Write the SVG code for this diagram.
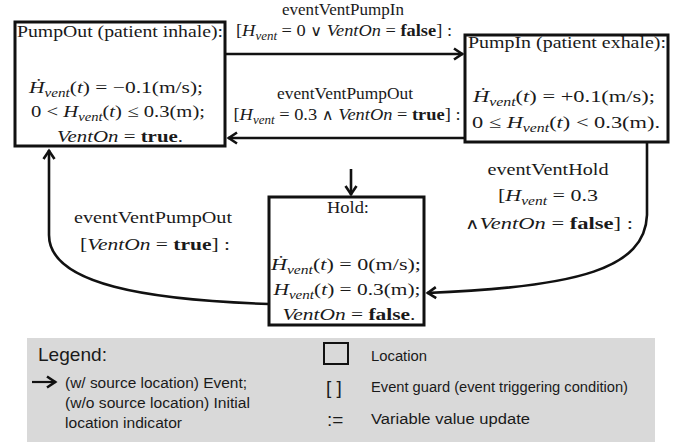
<svg xmlns="http://www.w3.org/2000/svg" width="678" height="442" viewBox="0 0 678 442">
<style>
.bg{fill:#ffffff}
.box{fill:none;stroke:#111;stroke-width:3}
.t{font-family:"Liberation Serif","DejaVu Serif",serif;font-size:17px;fill:#1a1a1a;text-anchor:middle}
.i{font-style:italic}
.b{font-weight:bold}
.s{font-size:12px}
.op{font-family:"DejaVu Serif","DejaVu Sans",serif;font-weight:normal;font-style:normal;font-size:15px}
.edge{fill:none;stroke:#111;stroke-width:2.6}
.leg{fill:#d9d9d9}
.lt{font-family:"Liberation Sans","Noto Sans",sans-serif;font-size:14px;fill:#1a1a1a}
.lh{font-family:"Liberation Sans","Noto Sans",sans-serif;font-size:19px;fill:#1a1a1a}
.sym{font-family:"Liberation Sans","Noto Sans",sans-serif;font-size:19px;fill:#1a1a1a}
</style>
<defs>
<marker id="arr" markerUnits="userSpaceOnUse" markerWidth="20" markerHeight="20" viewBox="-10 -10 20 20" refX="0" refY="0" orient="auto">
<path d="M-9,-5.5 L-0.8,0 L-9,5.5" fill="none" stroke="#111" stroke-width="2.6" stroke-linejoin="miter"/>
</marker>
</defs>
<rect class="bg" x="0" y="0" width="678" height="442"/>

<g id="connectors">
<path class="edge" d="M225,54 L463,54" marker-end="url(#arr)"/>
<path class="edge" d="M466,138 L228,138" marker-end="url(#arr)"/>
<path class="edge" d="M647,143 L647,215 C645,268 580,287 427,293" marker-end="url(#arr)"/>
<path class="edge" d="M269,304 C150,300 49,285 49,235 L49,150" marker-end="url(#arr)"/>
<path class="edge" d="M351,169 L351,195" marker-end="url(#arr)"/>
</g>

<g id="edge-labels">
<text class="t" x="343" y="15" textLength="122" lengthAdjust="spacingAndGlyphs">eventVentPumpIn</text>
<text class="t" x="344" y="36" textLength="216" lengthAdjust="spacingAndGlyphs">[<tspan class="i">H</tspan><tspan class="s i" dy="4">vent</tspan><tspan dy="-4"> = 0 </tspan><tspan class="op">∨</tspan> <tspan class="i">VentOn</tspan> = <tspan class="b">false</tspan>] :</text>
<text class="t" x="345" y="99" textLength="136" lengthAdjust="spacingAndGlyphs">eventVentPumpOut</text>
<text class="t" x="347" y="120" textLength="227" lengthAdjust="spacingAndGlyphs">[<tspan class="i">H</tspan><tspan class="s i" dy="4">vent</tspan><tspan dy="-4"> = 0.3 </tspan><tspan class="op">∧</tspan> <tspan class="i">VentOn</tspan> = <tspan class="b">true</tspan>] :</text>
<text class="t" x="548" y="175" textLength="121" lengthAdjust="spacingAndGlyphs">eventVentHold</text>
<text class="t" x="548" y="201" textLength="100" lengthAdjust="spacingAndGlyphs">[<tspan class="i">H</tspan><tspan class="s i" dy="4">vent</tspan><tspan dy="-4"> = 0.3</tspan></text>
<text class="t" x="549" y="229" textLength="168" lengthAdjust="spacingAndGlyphs"><tspan class="op">∧</tspan><tspan class="i">VentOn</tspan> = <tspan class="b">false</tspan>] :</text>
<text class="t" x="153" y="223" textLength="158" lengthAdjust="spacingAndGlyphs">eventVentPumpOut</text>
<text class="t" x="155" y="250" textLength="150" lengthAdjust="spacingAndGlyphs">[<tspan class="i">VentOn</tspan> = <tspan class="b">true</tspan>] :</text>
</g>

<g id="PumpOut">
<rect class="box" x="15" y="22" width="210" height="124"/>
<text class="t" x="120" y="37" textLength="206" lengthAdjust="spacingAndGlyphs">PumpOut (patient inhale):</text>
<text class="t" x="116" y="93" textLength="174" lengthAdjust="spacingAndGlyphs"><tspan class="i">Ḣ</tspan><tspan class="s i" dy="4">vent</tspan><tspan dy="-4">(</tspan><tspan class="i">t</tspan>) = −0.1(m/s);</text>
<text class="t" x="118" y="117" textLength="174" lengthAdjust="spacingAndGlyphs">0 &lt; <tspan class="i">H</tspan><tspan class="s i" dy="4">vent</tspan><tspan dy="-4">(</tspan><tspan class="i">t</tspan>) ≤ 0.3(m);</text>
<text class="t" x="120" y="142" textLength="126" lengthAdjust="spacingAndGlyphs"><tspan class="i">VentOn</tspan> = <tspan class="b">true</tspan>.</text>
</g>

<g id="PumpIn">
<rect class="box" x="465" y="35" width="203" height="107"/>
<text class="t" x="567" y="48" textLength="198" lengthAdjust="spacingAndGlyphs">PumpIn (patient exhale):</text>
<text class="t" x="564" y="102" textLength="182" lengthAdjust="spacingAndGlyphs"><tspan class="i">Ḣ</tspan><tspan class="s i" dy="4">vent</tspan><tspan dy="-4">(</tspan><tspan class="i">t</tspan>) = +0.1(m/s);</text>
<text class="t" x="566" y="128" textLength="188" lengthAdjust="spacingAndGlyphs">0 ≤ <tspan class="i">H</tspan><tspan class="s i" dy="4">vent</tspan><tspan dy="-4">(</tspan><tspan class="i">t</tspan>) &lt; 0.3(m).</text>
</g>

<g id="Hold">
<rect class="box" x="269" y="197" width="155" height="128"/>
<text class="t" x="348" y="213" textLength="42" lengthAdjust="spacingAndGlyphs">Hold:</text>
<text class="t" x="346" y="270" textLength="150" lengthAdjust="spacingAndGlyphs"><tspan class="i">Ḣ</tspan><tspan class="s i" dy="4">vent</tspan><tspan dy="-4">(</tspan><tspan class="i">t</tspan>) = 0(m/s);</text>
<text class="t" x="347" y="295" textLength="147" lengthAdjust="spacingAndGlyphs"><tspan class="i">H</tspan><tspan class="s i" dy="4">vent</tspan><tspan dy="-4">(</tspan><tspan class="i">t</tspan>) = 0.3(m);</text>
<text class="t" x="349" y="320" textLength="133" lengthAdjust="spacingAndGlyphs"><tspan class="i">VentOn</tspan> = <tspan class="b">false</tspan>.</text>
</g>

<g id="legend">
<rect class="leg" x="27" y="338" width="628" height="104"/>
<text class="lh" x="38" y="361" textLength="69" lengthAdjust="spacingAndGlyphs">Legend:</text>
<path d="M32,382 L56,382" fill="none" stroke="#111" stroke-width="2.2" marker-end="url(#arr)"/>
<text class="lt" x="65" y="388" textLength="182" lengthAdjust="spacingAndGlyphs">(w/ source location) Event;</text>
<text class="lt" x="65" y="408" textLength="185" lengthAdjust="spacingAndGlyphs">(w/o source location) Initial</text>
<text class="lt" x="65" y="428" textLength="117" lengthAdjust="spacingAndGlyphs">location indicator</text>
<rect x="324" y="343" width="24" height="21" fill="none" stroke="#111" stroke-width="2"/>
<text class="lt" x="371" y="361" textLength="56" lengthAdjust="spacingAndGlyphs">Location</text>
<text class="sym" x="326" y="394">[ ]</text>
<text class="sym" x="327" y="426">:=</text>
<text class="lt" x="371" y="392" textLength="257" lengthAdjust="spacingAndGlyphs">Event guard (event triggering condition)</text>
<text class="lt" x="371" y="424" textLength="159" lengthAdjust="spacingAndGlyphs">Variable value update</text>
</g>
</svg>
